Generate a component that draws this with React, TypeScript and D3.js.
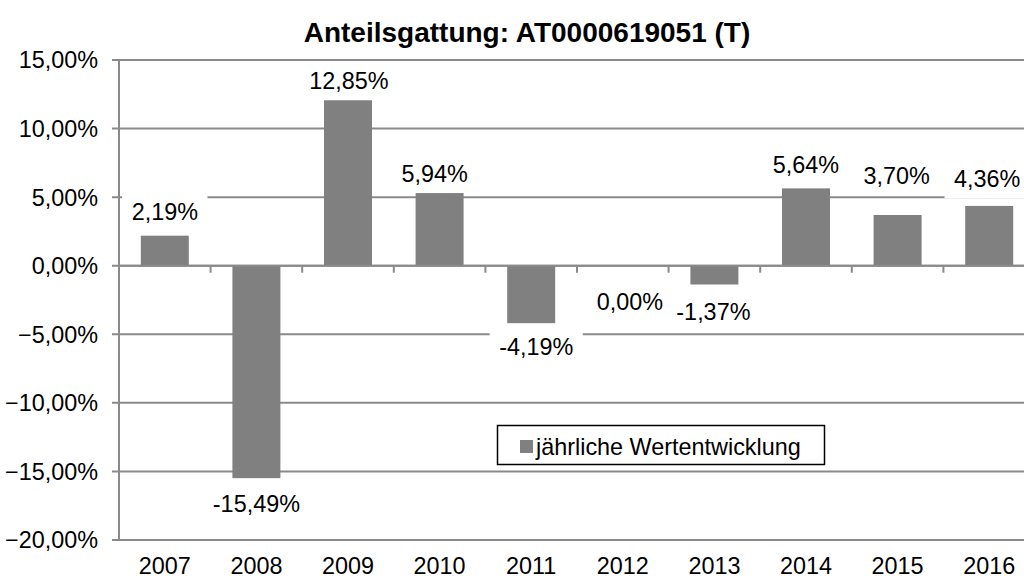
import * as React from 'react'
import * as d3 from 'd3'

const years = ['2007', '2008', '2009', '2010', '2011', '2012', '2013', '2014', '2015', '2016'];
// bar heights as drawn in the picture (in %)
const returns = [2.19, -15.49, 12.32, 5.48, -4.19, 0, -1.37, 5.64, 3.70, 4.36];
// data label texts as printed
const valueLabels = ['2,19%', '-15,49%', '12,85%', '5,94%', '-4,19%', '0,00%', '-1,37%', '5,64%', '3,70%', '4,36%'];
const yTicks = [-20, -15, -10, -5, 0, 5, 10, 15];
const chartTitle = 'Anteilsgattung: AT0000619051 (T)';
const seriesName = 'jährliche Wertentwicklung';

// label nudges relative to bar end: [dx, gap]
const labelShift: [number, number][] = [
  [0, 16], [0, 17], [1, 8], [-5, 9], [5, 15], [7, 28], [-1, 19], [0, 15], [-1, 31], [-2, 19]
];

const W = 1024;
const H = 578;
const FONT = '"Liberation Sans", Arial, sans-serif';
const FS = 23.4;
const GRID = '#8a8a8a';
const BAR = '#808080';

const App: React.FC = () => {
  const ref = React.useRef<SVGSVGElement>(null);

  React.useEffect(() => {
    const svg = d3.select(ref.current);
    svg.selectAll('*').remove();

    const x = d3.scaleBand<string>()
      .domain(years)
      .range([119, 1035])
      .paddingInner(0.476)
      .paddingOuter(0.238);

    const y = d3.scaleLinear()
      .domain([-20, 15])
      .range([540, 60]);

    const step = x.step();
    const fmt = (v: number) => d3.format('.2f')(v).replace('.', ',') + '%';

    svg.append('text')
      .attr('x', 527)
      .attr('y', 42)
      .attr('text-anchor', 'middle')
      .attr('font-family', FONT)
      .attr('font-weight', 'bold')
      .attr('font-size', 28)
      .text(chartTitle);

    // gridlines
    svg.append('g').selectAll('line')
      .data(yTicks)
      .enter()
      .append('line')
      .attr('x1', 112)
      .attr('x2', W)
      .attr('y1', d => y(d))
      .attr('y2', d => y(d))
      .attr('stroke', GRID)
      .attr('stroke-width', 2);

    svg.append('g').selectAll('text')
      .data(yTicks)
      .enter()
      .append('text')
      .attr('x', 98)
      .attr('y', d => y(d) + 8.4)
      .attr('text-anchor', 'end')
      .attr('font-family', FONT)
      .attr('font-size', FS)
      .text(d => fmt(d));

    // y axis
    svg.append('line')
      .attr('x1', 119).attr('x2', 119)
      .attr('y1', y(15)).attr('y2', y(-20))
      .attr('stroke', GRID)
      .attr('stroke-width', 2);

    // bars
    svg.append('g').selectAll('rect')
      .data(returns)
      .enter()
      .append('rect')
      .attr('x', (d, i) => x(years[i])!)
      .attr('width', x.bandwidth())
      .attr('y', d => y(Math.max(0, d)))
      .attr('height', d => Math.abs(y(d) - y(0)))
      .attr('fill', BAR);

    // category axis at zero
    svg.append('line')
      .attr('x1', 119).attr('x2', W)
      .attr('y1', y(0)).attr('y2', y(0))
      .attr('stroke', GRID)
      .attr('stroke-width', 2);

    svg.append('g').selectAll('line')
      .data(years)
      .enter()
      .append('line')
      .attr('x1', d => x(d)! - x.bandwidth() * 0.0 + x.bandwidth() + (step - x.bandwidth()) / 2)
      .attr('x2', d => x(d)! + x.bandwidth() + (step - x.bandwidth()) / 2)
      .attr('y1', y(0))
      .attr('y2', y(0) + 7)
      .attr('stroke', GRID)
      .attr('stroke-width', 2);

    // year labels
    svg.append('g').selectAll('text')
      .data(years)
      .enter()
      .append('text')
      .attr('x', d => x(d)! + x.bandwidth() / 2)
      .attr('y', 574)
      .attr('text-anchor', 'middle')
      .attr('font-family', FONT)
      .attr('font-size', FS)
      .text(d => d);

    // data labels with white boxes
    const cap = FS * 0.716;
    const labels = svg.append('g');
    returns.forEach((v, i) => {
      const [dx, gap] = labelShift[i];
      const cx = x(years[i])! + x.bandwidth() / 2 + dx;
      const base = v > 0 ? y(v) - gap : y(v) + gap + cap;
      const box = labels.append('rect').attr('fill', '#fff');
      const t = labels.append('text')
        .attr('x', cx)
        .attr('y', base)
        .attr('text-anchor', 'middle')
        .attr('font-family', FONT)
        .attr('font-size', FS)
        .text(valueLabels[i]);
      const w = (t.node() as SVGTextElement).getComputedTextLength();
      box.attr('x', cx - w / 2 - 9.5)
        .attr('y', base - cap - 9.5)
        .attr('width', w + 19)
        .attr('height', cap + 9.5 + 11.5);
    });

    // legend
    const lg = svg.append('g');
    lg.append('rect')
      .attr('x', 497.5).attr('y', 425.5)
      .attr('width', 327).attr('height', 39)
      .attr('fill', '#fff')
      .attr('stroke', '#000')
      .attr('stroke-width', 1.5);
    lg.append('rect')
      .attr('x', 520).attr('y', 440)
      .attr('width', 13).attr('height', 13)
      .attr('fill', BAR);
    lg.append('text')
      .attr('x', 536)
      .attr('y', 455)
      .attr('font-family', FONT)
      .attr('font-size', FS)
      .text(seriesName);
  }, []);

  return (
    <svg
      ref={ref}
      width={W}
      height={H}
      style={{ position: 'absolute', left: 0, top: 0, background: '#fff', overflow: 'hidden' }}
    ></svg>
  );
};

export default App;
